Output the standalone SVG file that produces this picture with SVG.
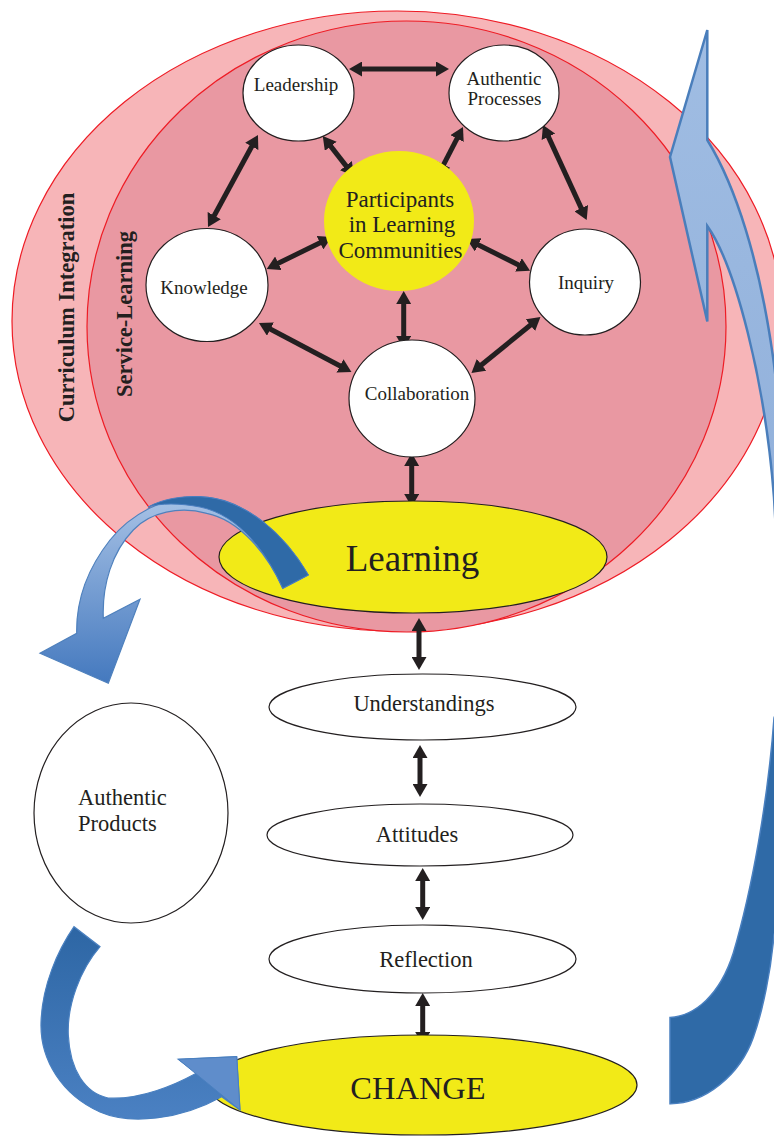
<svg xmlns="http://www.w3.org/2000/svg" width="774" height="1136" viewBox="0 0 774 1136">
<defs>
<style>
.t{font-family:"Liberation Serif","Times New Roman",serif;fill:#231f20;text-anchor:middle}
.node{fill:#fff;stroke:#231f20;stroke-width:1.2}
.yel{fill:#f2ea17;stroke:#231f20;stroke-width:1.2}
.con{stroke:#231f20;stroke-width:5;fill:none;marker-start:url(#ah);marker-end:url(#ah)}
.ring{stroke:#ee1c25;stroke-width:1.2}
</style>
<marker id="ah" viewBox="0 0 13 15" refX="3" refY="7.5" markerWidth="13" markerHeight="15" markerUnits="userSpaceOnUse" orient="auto-start-reverse">
<path d="M0,0 L13,7.5 L0,15 z" fill="#231f20"/>
</marker>
<linearGradient id="gLeft" gradientUnits="userSpaceOnUse" x1="0" y1="500" x2="0" y2="685">
<stop offset="0" stop-color="#a6c1e5"/><stop offset="1" stop-color="#4378be"/>
</linearGradient>
<linearGradient id="gBot" gradientUnits="userSpaceOnUse" x1="0" y1="925" x2="0" y2="1122">
<stop offset="0" stop-color="#2d66a4"/><stop offset="1" stop-color="#4b81c3"/>
</linearGradient>
<linearGradient id="gRight" gradientUnits="userSpaceOnUse" x1="0" y1="30" x2="0" y2="500">
<stop offset="0" stop-color="#a0bde3"/><stop offset="1" stop-color="#92b1db"/>
</linearGradient>
</defs>

<g id="curriculum-integration">
<ellipse class="ring" cx="397" cy="321" rx="385" ry="310" fill="#f7b5b8"/>
<text class="t" font-weight="bold" font-size="22.5" transform="translate(74,307.5) rotate(-90)">Curriculum Integration</text>
</g>
<g id="service-learning">
<ellipse class="ring" cx="406.5" cy="326.5" rx="319.5" ry="305.5" fill="#e998a2"/>
<text class="t" font-weight="bold" font-size="22.5" transform="translate(131.5,314) rotate(-90)">Service-Learning</text>
</g>

<g id="return-arrow">
<path d="M707.3,30 L707.3,140 C735,185 760,260 774,364 L782,430 L800,430 L800,600 L780,600 L774,497.5 C765,380 735,265 707.3,226 L707.3,321.5 L670,157 Z" fill="url(#gRight)" stroke="#4a7ebb" stroke-width="2.5" stroke-linejoin="miter"/>
<path d="M780,700 L774,718 C768,800 752,890 733.3,953 C720,995 695,1016 670,1017.4 L670,1103.7 C705,1104 740,1075 753.3,1037.6 C763,1010 771,970 774,934.7 L780,920 Z" fill="#2f6aa7" stroke="#4a80c0" stroke-width="1.5"/>
</g>

<g id="connectors">
<line class="con" x1="359" y1="69" x2="439" y2="69"/>
<line class="con" x1="328.9" y1="143.9" x2="347.8" y2="168.1"/>
<line class="con" x1="458.4" y1="135.9" x2="442.3" y2="167.1"/>
<line class="con" x1="253.2" y1="143.8" x2="212.8" y2="218.2"/>
<line class="con" x1="547.2" y1="134.1" x2="582.5" y2="210.9"/>
<line class="con" x1="275.7" y1="264.6" x2="322.7" y2="241.4"/>
<line class="con" x1="475.6" y1="243.5" x2="521.1" y2="266.2"/>
<line class="con" x1="403.7" y1="301" x2="403.7" y2="339"/>
<line class="con" x1="267.8" y1="327.7" x2="342.6" y2="367.3"/>
<line class="con" x1="532.7" y1="323.3" x2="479.2" y2="366.7"/>
<line class="con" x1="411.7" y1="463" x2="411.7" y2="497"/>
<line class="con" x1="419" y1="628" x2="419" y2="660"/>
<line class="con" x1="420" y1="755" x2="420" y2="787"/>
<line class="con" x1="422.7" y1="878" x2="422.7" y2="910"/>
<line class="con" x1="422.7" y1="1003" x2="422.7" y2="1035"/>
</g>

<g id="leadership">
<ellipse class="node" cx="298.5" cy="93" rx="55.5" ry="48"/>
<text class="t" font-size="19" x="296" y="91">Leadership</text>
</g>
<g id="authentic-processes">
<ellipse class="node" cx="504" cy="93" rx="55" ry="48"/>
<text class="t" font-size="19" x="504" y="85">Authentic</text>
<text class="t" font-size="19" x="504.5" y="105">Processes</text>
</g>
<g id="participants">
<ellipse cx="399" cy="221" rx="75" ry="70" fill="#f2ea17"/>
<text class="t" font-size="23" x="400" y="207">Participants</text>
<text class="t" font-size="23" x="402" y="232">in Learning</text>
<text class="t" font-size="23" x="400.5" y="258">Communities</text>
</g>
<g id="knowledge">
<ellipse class="node" cx="207" cy="285" rx="61" ry="56.5"/>
<text class="t" font-size="19" x="204" y="294">Knowledge</text>
</g>
<g id="inquiry">
<ellipse class="node" cx="585" cy="282" rx="55.5" ry="53"/>
<text class="t" font-size="19" x="586" y="288.5">Inquiry</text>
</g>
<g id="collaboration">
<ellipse class="node" cx="412" cy="398.5" rx="63" ry="58.5"/>
<text class="t" font-size="19" x="417" y="400">Collaboration</text>
</g>
<g id="learning">
<ellipse class="yel" cx="413" cy="557" rx="194" ry="56"/>
<text class="t" font-size="37" x="412.5" y="571">Learning</text>
</g>

<g id="products-arrow">
<path d="M308.3,575 C285,535 245,498 200,496.7 C165,495 130,515 110,540 C88,568 76,600 76.7,633.3 L40,653.3 L108.3,683.3 L140,599.3 L103.3,618.3 C102,585 112,552 133.3,530 C150,512 180,506 206.7,513.3 C240,520 268,555 282.7,588.3 Z" fill="url(#gLeft)" stroke="#4f81bd" stroke-width="1.2"/>
<path d="M308.3,575 C285,535 245,498 200,496.7 C180,496 163,499 148,507 C160,503 180,503 200,507 C240,515 268,555 282.7,588.3 Z" fill="#2f6aa7" stroke="#4a7ec0" stroke-width="1"/>
</g>

<g id="understandings">
<ellipse class="node" cx="422.5" cy="707" rx="153.5" ry="33"/>
<text class="t" font-size="22.5" x="424" y="711">Understandings</text>
</g>
<g id="attitudes">
<ellipse class="node" cx="420" cy="835" rx="153" ry="31"/>
<text class="t" font-size="22.5" x="417" y="842">Attitudes</text>
</g>
<g id="reflection">
<ellipse class="node" cx="422.5" cy="959" rx="153.5" ry="34"/>
<text class="t" font-size="22.5" x="426" y="967">Reflection</text>
</g>
<g id="authentic-products">
<ellipse class="node" cx="131" cy="813" rx="97" ry="110"/>
<text class="t" font-size="22.5" x="78" y="805" style="text-anchor:start">Authentic</text>
<text class="t" font-size="22.5" x="78" y="831" style="text-anchor:start">Products</text>
</g>
<g id="change">
<ellipse class="yel" cx="422.5" cy="1085" rx="214.5" ry="50"/>
<text class="t" font-size="32.5" x="418" y="1099">CHANGE</text>
</g>

<g id="change-arrow">
<path d="M74,926.7 C58,950 42,985 41,1023 C40,1060 62,1095 100,1112 C130,1125 180,1120 221.7,1096.7 L240,1110 L236.7,1056.7 L178.3,1059.3 L196.7,1073 C175,1085 140,1100 108,1098 C85,1093 70,1070 68.3,1035 C67,1005 80,970 100,946.7 Z" fill="url(#gBot)" stroke="#4a80c0" stroke-width="1.2"/>
<path d="M240,1110 L236.7,1056.7 L178.3,1059.3 Z" fill="#5f8dcb" stroke="#4a80c0" stroke-width="1"/>
</g>
</svg>
